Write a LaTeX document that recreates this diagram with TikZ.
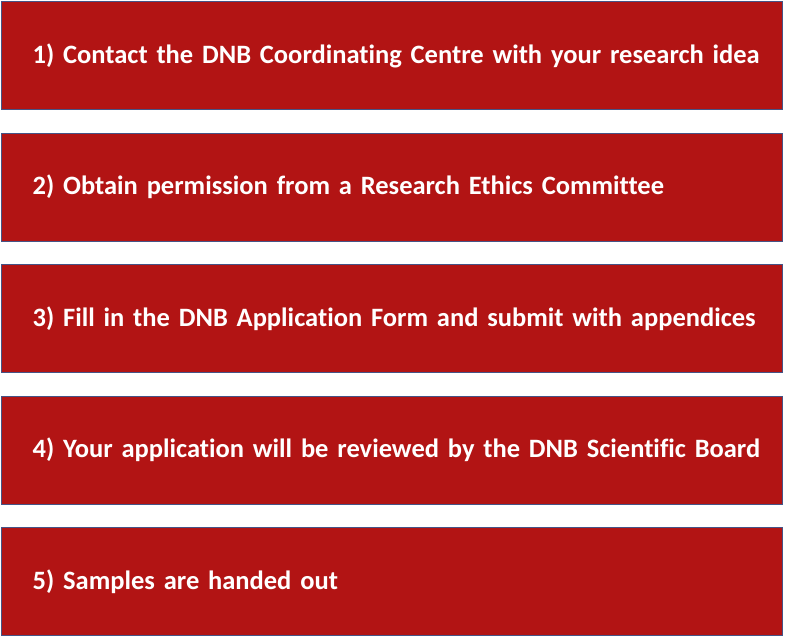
\documentclass[tikz,border=0pt]{standalone}
\usepackage{fontspec}
\setmainfont[Ligatures=NoCommon]{Carlito}
\usepackage{xcolor}
\usepackage{tikz}
\usetikzlibrary{positioning}

\definecolor{stepred}{RGB}{178,20,20}
\definecolor{stepedge}{RGB}{70,84,134}

\begin{document}
\begin{tikzpicture}[node distance=22.3pt,
    stepbox/.style={rectangle, draw=stepedge, line width=1.2pt, fill=stepred,
      minimum width=781pt, minimum height=108pt, inner xsep=0pt,
      text width=781pt, align=left, execute at begin node={\hspace*{31pt}},
      text=white, font=\fontsize{26.5}{31}\selectfont\bfseries}]

    \useasboundingbox (0,0) rectangle (800pt,-635pt);

    % Steps
    \node[stepbox, anchor=north west] (contact) at (1pt,-1pt) {1) Contact the DNB Coordinating Centre with your research idea};
    \node[stepbox, below=of contact] (ethics) {2) Obtain permission from a Research Ethics Committee};
    \node[stepbox, below=of ethics] (form) {3) Fill in the DNB Application Form and submit with appendices};
    \node[stepbox, below=of form] (review) {4) Your application will be reviewed by the DNB Scientific Board};
    \node[stepbox, below=of review] (samples) {5) Samples are handed out};

\end{tikzpicture}
\end{document}
